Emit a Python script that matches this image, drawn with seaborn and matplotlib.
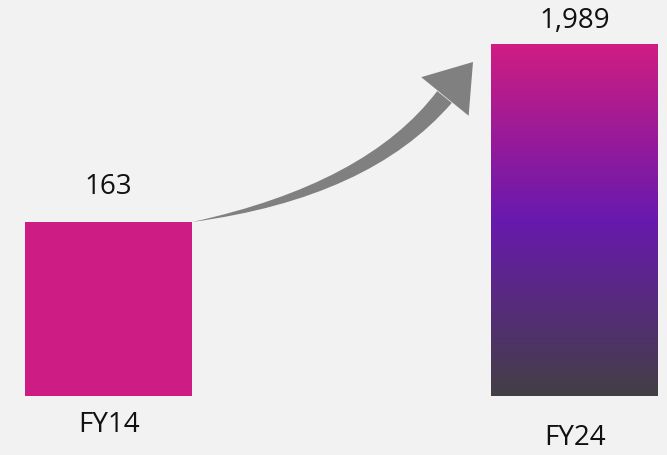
import numpy as np
import pandas as pd
import seaborn as sns
import matplotlib.pyplot as plt
from matplotlib.colors import LinearSegmentedColormap

# data
years = ['FY14', 'FY24']
values = [163, 1989]
value_labels = ['163', '1,989']

bg = '#f2f2f2'
sns.set_theme(style='white', rc={'axes.facecolor': bg, 'figure.facecolor': bg})
plt.rcParams['font.family'] = ['Open Sans', 'DejaVu Sans']

fig = plt.figure(figsize=(6.67, 4.55), dpi=100)
ax = fig.add_axes([0, 59 / 455, 1, 396 / 455])

df = pd.DataFrame({'year': years, 'value': values})
sns.barplot(data=df, x='year', y='value', ax=ax, width=0.358,
            color='#cd1d84', saturation=1, linewidth=0)

# bars are not to scale in the original; a log axis with a raised floor matches it
ax.set_yscale('log')
ax.set_ylim(14.13, 3697)
ax.set_xlim(-0.233, 1.198)
ax.set_autoscale_on(False)

# gradient fill for the second bar
patch = ax.patches[1]
x0 = patch.get_x()
x1 = x0 + patch.get_width()
inv = ax.transAxes.inverted()
(fx0, fy1), (fx1, _) = inv.transform(ax.transData.transform([(x0, values[1]), (x1, values[1])]))
cmap = LinearSegmentedColormap.from_list('fy', ['#cf1d82', '#6819ae', '#433f46'])
grad = np.linspace(0, 1, 256).reshape(-1, 1)
ax.imshow(grad, cmap=cmap, aspect='auto', extent=[fx0, fx1, 0, fy1],
          transform=ax.transAxes, origin='upper', zorder=2, clip_path=patch)

# value labels
label_offsets = [25, 16.5]
for i, (p, lbl) in enumerate(zip(ax.patches, value_labels)):
    ax.annotate(lbl, xy=(p.get_x() + p.get_width() / 2, values[i]),
                xytext=(0, label_offsets[i]), textcoords='offset points',
                ha='center', va='center', fontsize=20, color='#111111')

# category labels
year_offsets = [21, 30]
for i, yr in enumerate(years):
    ax.annotate(yr, xy=(i, 0), xycoords=('data', 'axes fraction'),
                xytext=(0, -year_offsets[i]), textcoords='offset points',
                ha='center', va='center', fontsize=20, color='#111111',
                annotation_clip=False)

# curved growth arrow: tapered shaft (wedge) + separate head
arrow_grey = '#808080'
head_base = (444.5, 358)
head_tip = (473, 393)
ax.annotate('', xy=(0.179, 163), xycoords='data',
            xytext=head_base, textcoords='figure pixels',
            arrowprops=dict(arrowstyle='wedge,tail_width=13.5,shrink_factor=0.6',
                            connectionstyle='angle3,angleA=51,angleB=10',
                            color=arrow_grey, lw=0, shrinkA=0, shrinkB=0,
                            mutation_scale=1))
ax.annotate('', xy=head_tip, xycoords='figure pixels',
            xytext=(head_base[0] - 3, head_base[1] - 3.7), textcoords='figure pixels',
            arrowprops=dict(arrowstyle='-|>,head_length=32,head_width=22',
                            color=arrow_grey, lw=0, shrinkA=0, shrinkB=0,
                            mutation_scale=1))

ax.set_xticks([])
ax.set_yticks([])
ax.minorticks_off()
ax.set_xlabel('')
ax.set_ylabel('')
sns.despine(ax=ax, left=True, bottom=True)

plt.savefig('out.png', dpi=100, facecolor=bg)
